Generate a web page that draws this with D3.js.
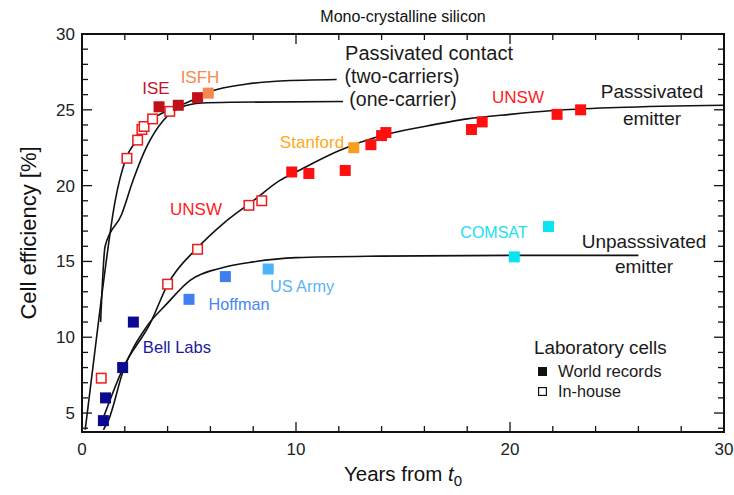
<!DOCTYPE html>
<html>
<head>
<meta charset="utf-8">
<script src="https://cdn.jsdelivr.net/npm/d3@7"></script>
<style>
body { margin: 0; background: #fff; }
text { font-family: "Liberation Sans", Arial, sans-serif; }
</style>
</head>
<body>
<div id="chart"></div>
<script>
// measured points (years from t0, efficiency %)
var bellLabs = [[1.0, 4.5], [1.1, 6.0], [1.9, 8.0], [2.4, 11.0]];
var hoffman = [[5.0, 12.5], [6.7, 14.0]];
var usArmy = [[8.7, 14.5]];
var comsat = [[20.2, 15.3], [21.8, 17.3]];
var unswRec = [[9.8, 20.9], [10.6, 20.8], [12.3, 21.0], [13.5, 22.7], [14.0, 23.3], [14.2, 23.5],
	[18.2, 23.7], [18.7, 24.2], [22.2, 24.7], [23.3, 25.0]];
var stanford = [[12.7, 22.5]];
var iseRec = [[3.6, 25.2], [4.5, 25.3], [5.4, 25.8]];
var isfh = [[5.9, 26.1]];
var inHouse = [[0.9, 7.3], [2.1, 21.8], [2.6, 23.0], [2.8, 23.7], [2.9, 23.9], [3.3, 24.4], [4.1, 24.9],
	[4.0, 13.5], [5.4, 15.8], [7.8, 18.7], [8.4, 19.0]];

// trend curves
var twoCarriers = [[0.15, 3.9], [0.9, 12.5], [1.55, 19.0], [2.06, 21.8], [2.55, 23.0], [2.94, 23.9], [3.3, 24.4],
	[4.1, 25.0], [4.6, 25.3], [5.4, 25.8], [6.0, 26.2], [7.7, 26.7], [9.25, 26.9], [11.9, 27.0]];
var oneCarrier = [[0.87, 11.0], [1.08, 16.0], [1.85, 18.1], [2.4, 20.4], [3.0, 22.5], [3.8, 24.3], [4.6, 25.15],
	[5.6, 25.45], [7.0, 25.5], [12.2, 25.55]];
var passEmitter = [[1.0, 4.7], [1.93, 8.0], [3.18, 10.9], [4.03, 13.55], [5.36, 15.85], [6.6, 17.5], [8.0, 19.0],
	[9.25, 20.35], [10, 20.9], [12, 22.3], [14, 23.3], [16, 23.9], [18, 24.4], [20, 24.7], [22, 24.95],
	[25, 25.15], [30, 25.3]];
var unpassEmitter = [[1.0, 3.9], [1.23, 4.5], [1.93, 7.8], [3.02, 10.7], [3.96, 12.2], [5.05, 13.75], [6.6, 14.6],
	[8.0, 14.97], [10.0, 15.25], [13.9, 15.35], [20, 15.4], [26, 15.4]];

var xTickLabels = [0, 10, 20, 30];
var yTickLabels = [5, 10, 15, 20, 25, 30];

var margin = {top: 34, right: 10, bottom: 63, left: 82};
var width = 734, height = 495;
var w = width - margin.left - margin.right;
var h = height - margin.top - margin.bottom;

var svg = d3.select("#chart").append("svg")
	.attr("width", width)
	.attr("height", height);
var g = svg.append("g")
	.attr("transform", "translate(" + margin.left + "," + margin.top + ")");

var x = d3.scaleLinear().domain([0, 30]).range([0, w]);
var y = d3.scaleLinear().domain([3.75, 30]).range([h, 0]);

// ticks, all pointing inward
var xMinor = d3.range(0, 31, 2);
var yMinor = d3.range(4, 31, 1);
function tickLen(v, step) { return v % step === 0 ? 10 : 6; }

g.selectAll(".xt").data(xMinor).enter().append("line")
	.attr("x1", d => x(d)).attr("x2", d => x(d))
	.attr("y1", h).attr("y2", d => h - tickLen(d, 10))
	.attr("stroke", "#111").attr("stroke-width", 1.3);
g.selectAll(".xtt").data(xMinor).enter().append("line")
	.attr("x1", d => x(d)).attr("x2", d => x(d))
	.attr("y1", 0).attr("y2", d => tickLen(d, 10))
	.attr("stroke", "#111").attr("stroke-width", 1.3);
g.selectAll(".yt").data(yMinor).enter().append("line")
	.attr("y1", d => y(d)).attr("y2", d => y(d))
	.attr("x1", 0).attr("x2", d => tickLen(d, 5))
	.attr("stroke", "#111").attr("stroke-width", 1.3);
g.selectAll(".ytr").data(yMinor).enter().append("line")
	.attr("y1", d => y(d)).attr("y2", d => y(d))
	.attr("x1", w).attr("x2", d => w - tickLen(d, 5))
	.attr("stroke", "#111").attr("stroke-width", 1.3);

g.append("rect")
	.attr("width", w).attr("height", h)
	.attr("fill", "none").attr("stroke", "#111").attr("stroke-width", 2);

g.selectAll(".xl").data(xTickLabels).enter().append("text")
	.attr("x", d => x(d)).attr("y", h + 23)
	.attr("text-anchor", "middle")
	.style("font-size", "17px").attr("fill", "#222")
	.text(d => d);
g.selectAll(".yl").data(yTickLabels).enter().append("text")
	.attr("x", -7).attr("y", d => y(d) + 6)
	.attr("text-anchor", "end")
	.style("font-size", "17px").attr("fill", "#222")
	.text(d => d);

// axis titles
svg.append("text")
	.attr("x", margin.left + w / 2).attr("y", 22)
	.attr("text-anchor", "middle").style("font-size", "16px").attr("fill", "#111")
	.text("Mono-crystalline silicon");
svg.append("text")
	.attr("transform", "translate(36," + (margin.top + h / 2) + ") rotate(-90)")
	.attr("text-anchor", "middle").style("font-size", "22px").attr("fill", "#111")
	.text("Cell efficiency [%]");
var xt = svg.append("text")
	.attr("x", margin.left + w / 2).attr("y", 481)
	.attr("text-anchor", "middle").style("font-size", "20.5px").attr("fill", "#111");
xt.append("tspan").text("Years from ");
xt.append("tspan").style("font-style", "italic").text("t");
xt.append("tspan").attr("dy", 5).style("font-size", "15px").text("0");

// curves
var line = d3.line().x(d => x(d[0])).y(d => y(d[1])).curve(d3.curveMonotoneX);
[twoCarriers, oneCarrier, passEmitter, unpassEmitter].forEach(function(c) {
	g.append("path").datum(c)
		.attr("d", line)
		.attr("fill", "none").attr("stroke", "#111").attr("stroke-width", 1.6);
});

// markers
var sz = 11;
function squares(data, color) {
	g.selectAll(null).data(data).enter().append("rect")
		.attr("x", d => x(d[0]) - sz / 2).attr("y", d => y(d[1]) - sz / 2)
		.attr("width", sz).attr("height", sz)
		.attr("fill", color);
}
g.selectAll(null).data(inHouse).enter().append("rect")
	.attr("x", d => x(d[0]) - sz / 2 + 0.75).attr("y", d => y(d[1]) - sz / 2 + 0.75)
	.attr("width", sz - 1.5).attr("height", sz - 1.5)
	.attr("fill", "#fff").attr("stroke", "#f01818").attr("stroke-width", 1.5);
squares(bellLabs, "#0a0a90");
squares(hoffman, "#3f7ff2");
squares(usArmy, "#4ab4f8");
squares(comsat, "#08e4f2");
squares(unswRec, "#ff1010");
squares(stanford, "#f7a020");
squares(iseRec, "#c0101c");
squares(isfh, "#f5874f");

// annotations
function label(txt, cx, cy, color, size, anchor) {
	svg.append("text")
		.attr("x", cx).attr("y", cy)
		.attr("text-anchor", anchor || "middle")
		.style("font-size", size + "px")
		.attr("fill", color)
		.text(txt);
}
label("ISE", 156, 94, "#c8102e", 17);
label("ISFH", 200, 83, "#f58a50", 17);
label("Passivated contact", 429, 60, "#1a1a1a", 20);
label("(two-carriers)", 402, 83, "#1a1a1a", 19.5);
label("(one-carrier)", 403, 106, "#1a1a1a", 19.5);
label("UNSW", 518, 103, "#ff2020", 17);
label("Passsivated", 652, 98, "#1a1a1a", 19);
label("emitter", 652, 125, "#1a1a1a", 19);
label("Stanford", 312, 148, "#ffa820", 17);
label("UNSW", 196, 215, "#ff2020", 17);
label("COMSAT", 494, 238, "#20e0f0", 16);
label("Unpasssivated", 644, 248, "#1a1a1a", 19);
label("emitter", 644, 273, "#1a1a1a", 19);
label("US Army", 302, 292, "#59b4f5", 16.3);
label("Hoffman", 239, 310, "#4a86f0", 16.2);
label("Bell Labs", 177, 353, "#1a1a9a", 16.6);
label("Laboratory cells", 534, 354, "#1a1a1a", 18.8, "start");
label("World records", 558, 377, "#1a1a1a", 16.7, "start");
label("In-house", 558, 397, "#1a1a1a", 16.2, "start");
svg.append("rect").attr("x", 538).attr("y", 367).attr("width", 9).attr("height", 9).attr("fill", "#111");
svg.append("rect").attr("x", 538.6).attr("y", 387.6).attr("width", 7.8).attr("height", 7.8)
	.attr("fill", "#fff").attr("stroke", "#111").attr("stroke-width", 1.2);
</script>
</body>
</html>
